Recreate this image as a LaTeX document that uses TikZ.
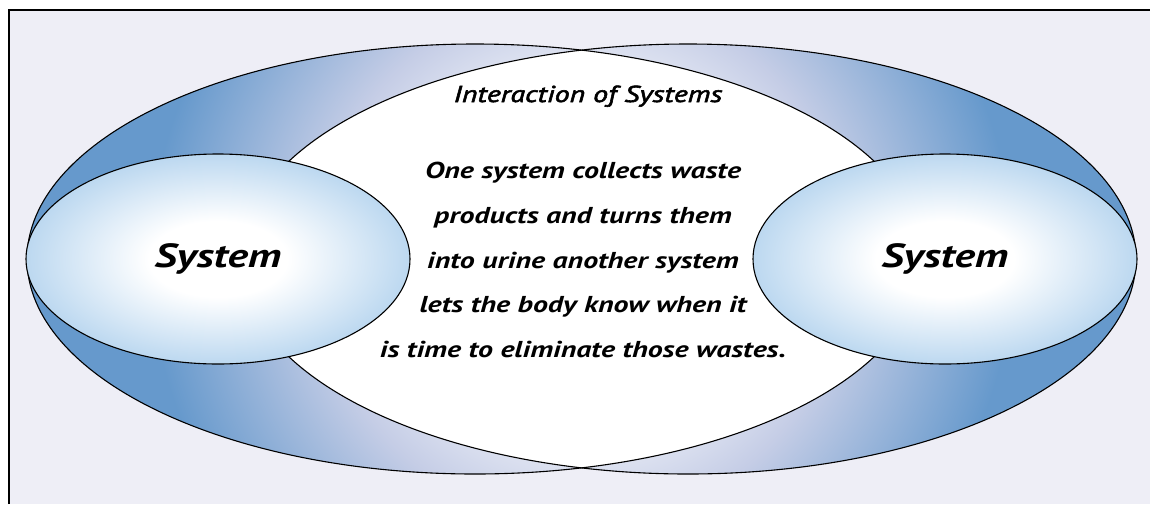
\documentclass[tikz,border=0pt]{standalone}
\usepackage{fontspec}
\setmainfont{PT Sans}[FakeStretch=1.3]
\newfontfamily\titlefont{PT Sans}[FakeStretch=1.3, FakeBold=2.5]
\usetikzlibrary{shapes.geometric}

\definecolor{framebg}{HTML}{EEEEF6}
\definecolor{ringblue}{HTML}{6699CC}
\definecolor{ringlav}{HTML}{C5CDE6}
\definecolor{sysblue}{HTML}{BCD8F0}

\pgfdeclareradialshading{ringfade}{\pgfpoint{0bp}{0bp}}{color(0bp)=(white); color(5bp)=(white); color(11bp)=(ringlav); color(18bp)=(ringblue); color(50bp)=(ringblue)}
\pgfdeclareradialshading{sysglow}{\pgfpoint{0bp}{0bp}}{color(0bp)=(white); color(9bp)=(white); color(25bp)=(sysblue); color(50bp)=(sysblue)}

\begin{document}
\begin{tikzpicture}[
    x=1pt, y=-1pt,
    outline/.style={draw=black, line width=1.1pt},
    sysoval/.style={ellipse, outline, inner sep=0pt, minimum width=384pt, minimum height=210pt,
        shading=sysglow, font=\fontsize{33.5}{40}\selectfont\bfseries\itshape},
    textline/.style={inner sep=0pt, align=center}
]

% page and frame
\fill[white] (0,0) rectangle (1150,504);
\useasboundingbox (0,0) rectangle (1150,504);
\fill[framebg] (9,10) rectangle (1150,504);
\draw[line width=2.2pt] (9,504) -- (9,10) -- (1150,10);

\coordinate (leftring) at (475,259);
\coordinate (rightring) at (688,259);
\coordinate (lens) at (581.5,259);

% the two big rings
\begin{scope}
  \clip (leftring) ellipse [x radius=448, y radius=215];
  \shade[shading=ringfade] (lens) circle (600);
\end{scope}
\begin{scope}
  \clip (rightring) ellipse [x radius=448, y radius=215];
  \shade[shading=ringfade] (lens) circle (600);
\end{scope}
\begin{scope}
  \clip (leftring) ellipse [x radius=448, y radius=215];
  \fill[white] (rightring) ellipse [x radius=448, y radius=215];
\end{scope}
\draw[outline] (leftring) ellipse [x radius=448, y radius=215];
\draw[outline] (rightring) ellipse [x radius=448, y radius=215];

% systems
\node[sysoval, shade] (leftsys) at (218,259) {System};
\node[sysoval, shade] (rightsys) at (945,259) {System};

% text in the overlap
\node[textline, anchor=base, font=\titlefont\fontsize{23}{26}\selectfont\itshape] (title) at (588,102) {Interaction of Systems};
\node[textline, font=\fontsize{23}{44.75}\selectfont\bfseries\itshape] (story) at (583,260)
  {One system collects waste\\ products and turns them\\ into urine another system\\
   lets the body know when it\\ is time to eliminate those wastes.};

\end{tikzpicture}
\end{document}
